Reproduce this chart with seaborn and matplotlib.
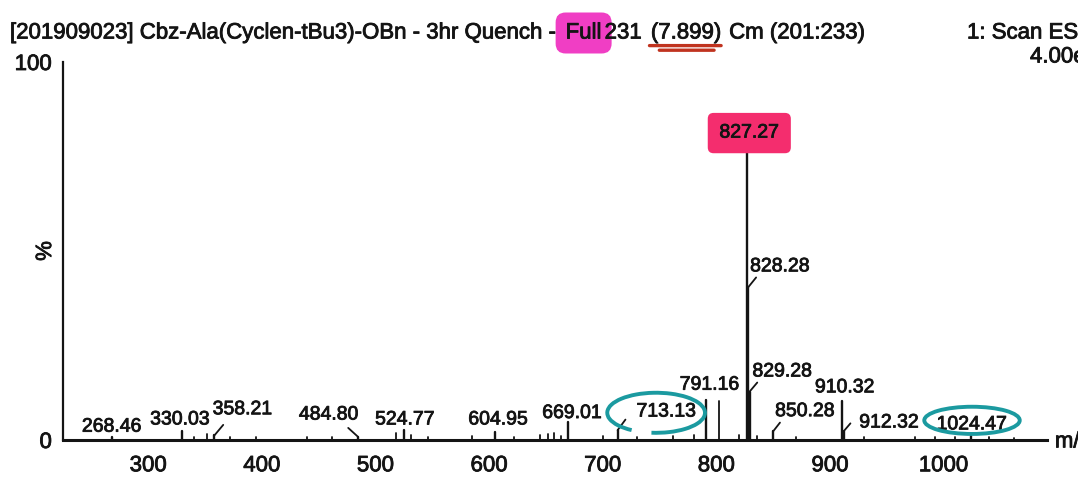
import numpy as np
import pandas as pd
import matplotlib
matplotlib.use("Agg")
import matplotlib.pyplot as plt
import matplotlib.patheffects as pe
from matplotlib.patches import Ellipse, Arc
from matplotlib.ticker import MultipleLocator
import seaborn as sns

# ---- spectrum data -------------------------------------------------------
# labelled peaks: m/z and relative intensity (%)
peak_mz = [268.46, 330.03, 358.21, 484.80, 524.77, 604.95, 669.01, 713.13,
           791.16, 827.27, 828.28, 829.28, 850.28, 910.32, 912.32, 1024.47]
peak_pct = [0.8, 2.4, 1.2, 0.8, 2.6, 2.2, 4.8, 2.6,
            10.6, 77.5, 40.5, 12.8, 2.4, 10.2, 2.4, 1.0]
peak_labels = ["268.46", "330.03", "358.21", "484.80", "524.77", "604.95",
               "669.01", "713.13", "791.16", "827.27", "828.28", "829.28",
               "850.28", "910.32", "912.32", "1024.47"]

# unlabelled minor peaks
minor_mz = [340, 352, 372, 395, 440, 462, 518, 531, 546, 585, 622,
            645, 652, 657, 663, 700, 730, 762, 780, 802, 820, 836,
            870, 930, 975, 992, 1010, 1040, 1062]
minor_pct = [0.8, 1.6, 0.7, 0.8, 0.8, 0.7, 1.8, 1.2, 0.8, 1.0, 0.8,
             1.2, 1.6, 1.8, 1.0, 1.0, 0.8, 1.0, 1.2, 10.2, 1.4, 1.0,
             0.8, 0.8, 0.8, 0.9, 0.8, 0.7, 0.6]

x_ticks = [300, 400, 500, 600, 700, 800, 900, 1000]
y_ticks = [0, 100]

title_parts = ["[201909023] Cbz-Ala(Cyclen-tBu3)-OBn - 3hr Quench -",
               "Full", "231", "(7.899)", "Cm (201:233)"]
scan_text = "1: Scan ES+"
scale_text = "4.00e6"

# ---- label layout: text centre (m/z, %) and optional leader end ----------
label_layout = {
    "268.46": (268, 3.4, None),
    "330.03": (328, 5.3, None),
    "358.21": (383, 8.0, (366, 4.0)),
    "484.80": (459, 6.6, (476, 3.2)),
    "524.77": (526, 5.3, None),
    "604.95": (608, 5.3, None),
    "669.01": (673, 7.0, None),
    "713.13": (756, 7.4, (720, 5.4)),
    "791.16": (794, 14.5, None),
    "827.27": (829, 81.2, None),
    "828.28": (856, 45.8, (835, 43.0)),
    "829.28": (858, 18.0, (836, 15.2)),
    "850.28": (878, 7.5, (856, 4.6)),
    "910.32": (913, 13.8, None),
    "912.32": (952, 4.5, (918, 4.4)),
    "1024.47": (1025, 4.0, None),
}

ink = "#141414"
heavy = [pe.withStroke(linewidth=0.6, foreground=ink)]

sns.set_theme(style="white")
plt.rcParams["font.family"] = ["Liberation Sans", "DejaVu Sans"]

fig = plt.figure(figsize=(10.78, 4.83), dpi=100)
ax = fig.add_axes([63 / 1078, 43 / 483, 984 / 1078, 378 / 483])

# sticks: one two-point line per peak
rows = []
for i, (m, p) in enumerate(zip(peak_mz, peak_pct)):
    rows += [(i, m, 0.0), (i, m, p)]
sticks = pd.DataFrame(rows, columns=["peak", "mz", "pct"])

rows = []
for i, (m, p) in enumerate(zip(minor_mz, minor_pct)):
    rows += [(i, m, 0.0), (i, m, p)]
minor = pd.DataFrame(rows, columns=["peak", "mz", "pct"])

sns.lineplot(data=minor, x="mz", y="pct", units="peak", estimator=None,
             sort=False, color=ink, linewidth=1.3, ax=ax, legend=False)
sns.lineplot(data=sticks, x="mz", y="pct", units="peak", estimator=None,
             sort=False, color=ink, linewidth=1.7, ax=ax, legend=False)

ax.set_xlim(225, 1091)
ax.set_ylim(0, 100)

# peak labels and leaders
for m, p, lab in zip(peak_mz, peak_pct, peak_labels):
    tx, ty, lead = label_layout[lab]
    kw = {}
    if lab == "827.27":
        kw["bbox"] = dict(boxstyle="round,pad=0.6,rounding_size=0.3",
                          fc="#f42d6e", ec="none")
    ax.text(tx, ty, lab, ha="center", va="center", fontsize=14,
            color=ink, zorder=5, path_effects=heavy, **kw)
    if lead is not None:
        ax.plot([m, lead[0]], [p, lead[1]], color=ink, lw=1.3, zorder=4)

# hand-drawn circles
ax.add_patch(Arc((747, 7.2), 86, 10.6, theta1=232, theta2=552,
                 color="#1b9aa0", lw=2.8, zorder=6, clip_on=False))
ax.add_patch(Ellipse((1025, 5.2), 84, 7.2, fill=False,
                     ec="#1b9aa0", lw=2.8, zorder=6, clip_on=False))

# axes styling
for side in ["top", "right"]:
    ax.spines[side].set_visible(False)
ax.spines["bottom"].set_linewidth(2.2)
ax.spines["left"].set_linewidth(1.6)
for side in ["bottom", "left"]:
    ax.spines[side].set_color(ink)

ax.set_xticks(x_ticks)
ax.set_xticklabels([str(t) for t in x_ticks], fontsize=16, color=ink)
ax.xaxis.set_minor_locator(MultipleLocator(50))
ax.set_yticks(y_ticks)
ax.set_yticklabels([str(t) for t in y_ticks], fontsize=16, color=ink)
ax.yaxis.set_minor_locator(MultipleLocator(10))
for lab in ax.get_xticklabels() + ax.get_yticklabels():
    lab.set_path_effects(heavy)
ax.tick_params(axis="x", which="major", direction="out", length=7,
               width=1.5, color=ink, pad=4)
ax.tick_params(axis="x", which="minor", direction="out", length=4,
               width=1.3, color=ink)
ax.tick_params(axis="y", which="major", direction="out", length=6,
               width=1.5, color=ink, pad=2)
ax.tick_params(axis="y", which="minor", direction="out", length=3,
               width=1.5, color=ink)
ax.set_xlabel("")
ax.set_ylabel("%", fontsize=16, color=ink, path_effects=heavy)
ax.yaxis.set_label_coords(-0.007, 0.5)
ax.text(1.008, -0.005, "m/z", transform=ax.transAxes, ha="left",
        va="center", fontsize=16, color=ink, clip_on=False,
        path_effects=heavy)

# header line, built piece by piece so highlights follow the text
hsize = 16
ty = 1 - 33 / 483
t = fig.text(10 / 1078, ty, title_parts[0], fontsize=hsize, color=ink,
             va="center", ha="left", zorder=5, path_effects=heavy)
gaps = [9, 3, 9, 8]
pieces = [t]
for part, gap in zip(title_parts[1:], gaps):
    kw = {}
    if part == "Full":
        kw["bbox"] = dict(boxstyle="round,pad=0.45", fc="#f03ec4", ec="none")
    t = ax.annotate(part, xy=(1, 0.5), xycoords=t, xytext=(gap, 0),
                    textcoords="offset pixels", va="center", ha="left",
                    fontsize=hsize, color=ink, zorder=5,
                    annotation_clip=False, path_effects=heavy, **kw)
    pieces.append(t)

underlined = pieces[3]
for yy, x0, x1 in [(-0.1, -0.02, 1.0), (-0.32, 0.12, 0.9)]:
    ax.annotate("", xy=(x0, yy), xycoords=underlined, xytext=(x1, yy),
                textcoords=underlined,
                arrowprops=dict(arrowstyle="-", color="#c0331f", lw=2.4,
                                shrinkA=0, shrinkB=0),
                annotation_clip=False)

fig.text(967 / 1078, ty, scan_text, fontsize=hsize, color=ink,
         va="center", ha="left", path_effects=heavy)
fig.text(1030 / 1078, 1 - 57 / 483, scale_text, fontsize=hsize, color=ink,
         va="center", ha="left", path_effects=heavy)

fig.savefig("out.png", dpi=100, facecolor="white")
